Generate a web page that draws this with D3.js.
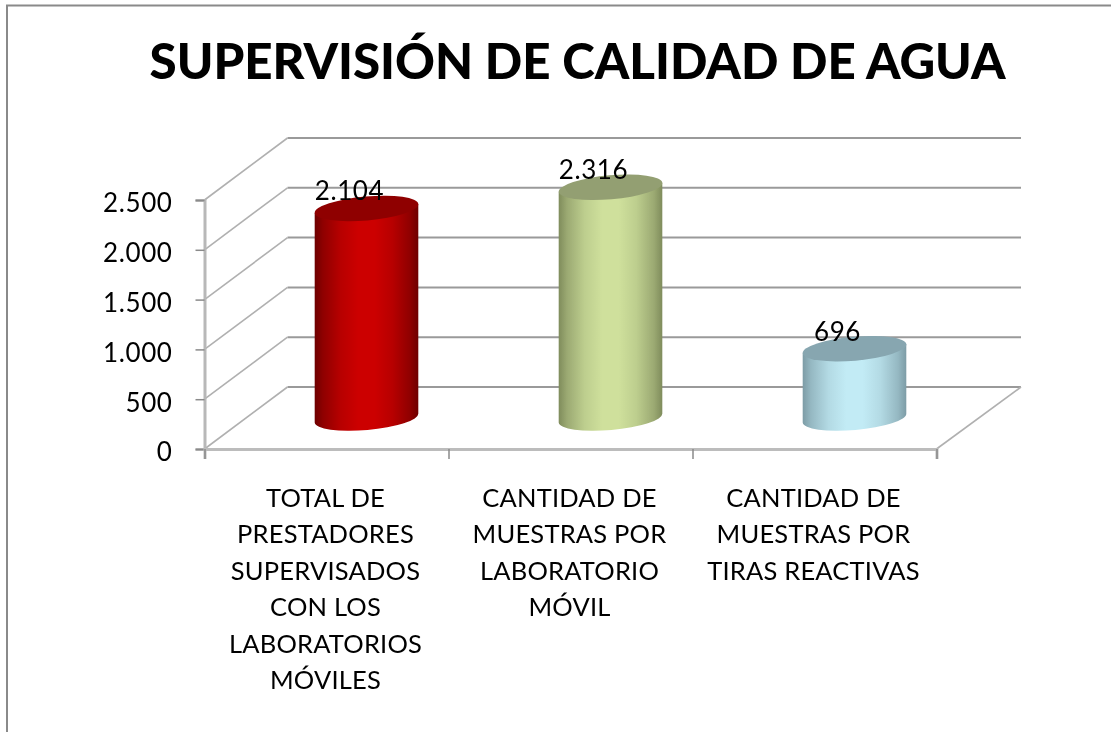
<!DOCTYPE html>
<html><head><meta charset="utf-8">
<style>html,body{margin:0;padding:0;background:#fff}svg{display:block}</style>
<script src="https://cdn.jsdelivr.net/npm/d3@7"></script></head><body>
<svg id="c" width="1111" height="732"></svg>
<script>
const titleText = "SUPERVISIÓN DE CALIDAD DE AGUA";
const categories = ["TOTAL","LAB","TIRAS"];
const categoryLines = [
  ["TOTAL DE","PRESTADORES","SUPERVISADOS","CON LOS","LABORATORIOS","MÓVILES"],
  ["CANTIDAD DE","MUESTRAS POR","LABORATORIO","MÓVIL"],
  ["CANTIDAD DE","MUESTRAS POR","TIRAS REACTIVAS"]
];
const values = [2104, 2316, 696];
const yTicks = [0,500,1000,1500,2000,2500];
const palettes = [
  {edge:"#6e0000",mid:"#cc0000",top:"#8f0000"},
  {edge:"#7f8c5c",mid:"#cfe09c",top:"#939f72"},
  {edge:"#7d9ca6",mid:"#c2ebf5",top:"#87a6b0"}
];
const gradientStops = [[0,0],[.08,.35],[.25,.78],[.42,1],[.58,1],[.75,.78],[.92,.35],[1,0]];
const font = "Lato, Carlito, Calibri, sans-serif";
const svg = d3.select("#c");
const fmt = d3.formatLocale({decimal:",",thousands:".",grouping:[3],currency:["",""]}).format(",d");

// geometry of the 3D box
const x0=204.5, x1=936.5, dx=83, dy=-62, yBottom=449, yTop=200;
const x = d3.scaleBand().domain(categories).range([x0,x1]);
const y = d3.scaleLinear().domain([0,2500]).range([yBottom,yTop]);

const defs = svg.append("defs");
palettes.forEach((p,i)=>{
  const g = defs.append("linearGradient").attr("id","cyl"+i).attr("x1",0).attr("x2",1).attr("y1",0).attr("y2",0);
  const mix = d3.interpolateRgb(p.edge,p.mid);
  gradientStops.forEach(s=>g.append("stop").attr("offset",s[0]).attr("stop-color",mix(s[1])));
});
defs.append("filter").attr("id","soft").attr("filterUnits","userSpaceOnUse")
  .attr("x",0).attr("y",0).attr("width",1111).attr("height",732)
  .append("feGaussianBlur").attr("stdDeviation",0.5);

const root = svg.append("g").attr("filter","url(#soft)");

// frame (right and bottom sides fall outside the picture)
root.append("path").attr("d","M7 732V5.5H1111").attr("fill","none").attr("stroke","#8a8a8a").attr("stroke-width",2);

root.append("text").text(titleText).attr("x",577.5).attr("y",79)
  .attr("text-anchor","middle").attr("font-family",font).attr("font-weight",900).attr("font-size",49)
  .attr("textLength",856).attr("lengthAdjust","spacingAndGlyphs").attr("fill","#000");

const grid = root.append("g").attr("fill","none").attr("stroke","#9a9a9a");
// back wall gridlines and side-wall diagonals
grid.selectAll(".back").data(yTicks).join("line").attr("class","back")
  .attr("x1",x0+dx).attr("x2",1021).attr("y1",d=>y(d)+dy).attr("y2",d=>y(d)+dy).attr("stroke-width",2);
grid.selectAll(".side").data(yTicks).join("line").attr("class","side")
  .attr("x1",x0).attr("x2",x0+dx).attr("y1",d=>y(d)).attr("y2",d=>y(d)+dy).attr("stroke","#b0b0b0").attr("stroke-width",1.6);
// floor right diagonal
grid.append("line").attr("x1",x1).attr("y1",y(0)).attr("x2",1021).attr("y2",y(0)+dy).attr("stroke","#b0b0b0").attr("stroke-width",1.6);

// axes
const axisY = root.append("g").attr("transform",`translate(${x0},0)`)
  .call(d3.axisLeft(y).tickValues(yTicks).tickFormat(fmt).tickSize(9).tickPadding(23));
axisY.select(".domain").attr("stroke","#b8b8b8").attr("stroke-width",3);
axisY.selectAll(".tick line").attr("stroke","#8a8a8a").attr("stroke-width",1.5);
axisY.selectAll(".tick text").attr("font-family",font).attr("font-size",26).attr("letter-spacing",0.6).attr("fill","#000").attr("dy","0.46em");

const xBounds = d3.scaleLinear().domain([0,categories.length]).range([x0,x1]);
const axisX = root.append("g").attr("transform",`translate(0,${yBottom})`)
  .call(d3.axisBottom(xBounds).ticks(3).tickFormat("").tickSize(10));
axisX.select(".domain").attr("stroke","#bcbcbc").attr("stroke-width",3);
axisX.selectAll(".tick line").attr("stroke","#8a8a8a").attr("stroke-width",1.5);

// cylinders
const rx=52, ry=12, rot=-5, floorShift=-31, depthX=40;
const rad=rot*Math.PI/180, ex=rx*Math.cos(rad), ey=rx*Math.sin(rad);
const cx=c=>x(c)+x.bandwidth()/2+depthX;
const bars = root.selectAll(".bar").data(values.map((v,i)=>({v,i,c:categories[i]}))).join("g").attr("class","bar");
bars.append("path").attr("fill",d=>`url(#cyl${d.i})`).attr("d",d=>{
  const X=cx(d.c), t=y(d.v)+floorShift, b=y(0)+floorShift;
  return `M${X-ex} ${t-ey}L${X+ex} ${t+ey}L${X+ex} ${b+ey}A${rx} ${ry} ${rot} 0 1 ${X-ex} ${b-ey}Z`;
});
bars.append("ellipse").attr("fill",d=>palettes[d.i].top)
  .attr("rx",rx).attr("ry",ry)
  .attr("transform",d=>`translate(${cx(d.c)},${y(d.v)+floorShift}) rotate(${rot})`);

// data labels
root.selectAll(".val").data(values).join("text").attr("class","val").text(d=>fmt(d))
  .attr("x",(d,i)=>cx(categories[i])-17).attr("y",d=>y(d)+floorShift-8)
  .attr("text-anchor","middle").attr("font-family",font).attr("font-size",26).attr("letter-spacing",0.6).attr("fill","#000");

// category labels
const cat = root.selectAll(".cat").data(categoryLines).join("text").attr("class","cat")
  .attr("text-anchor","middle").attr("font-family",font).attr("font-size",25.5).attr("letter-spacing",0.2).attr("fill","#000");
cat.selectAll("tspan").data((d,i)=>d.map(t=>({t,i}))).join("tspan")
  .attr("x",d=>x(categories[d.i])+x.bandwidth()/2-1)
  .attr("y",(d,j)=>506.5+j*36.5).text(d=>d.t);
</script></body></html>
